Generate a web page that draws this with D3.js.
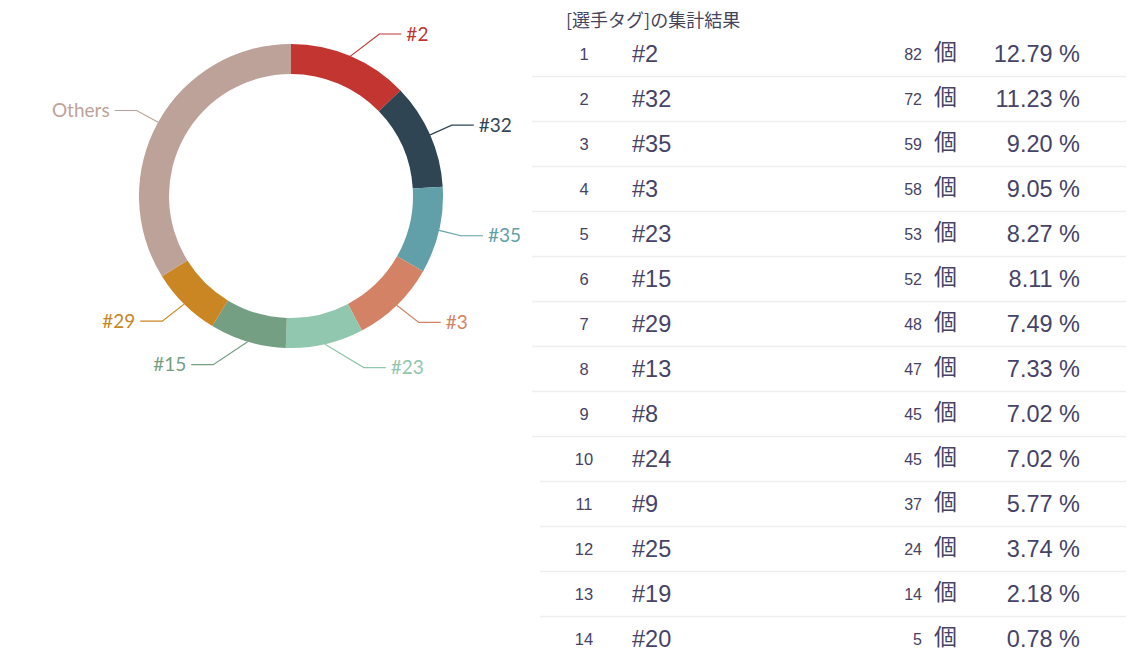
<!DOCTYPE html>
<html>
<head>
<meta charset="utf-8">
<script src="https://cdn.jsdelivr.net/npm/d3@7"></script>
<style>
  body { margin: 0; background: #fff; }
</style>
</head>
<body>
<div id="vis"></div>
<script>
// tag counts, in ranked order
const tags = ["#2", "#32", "#35", "#3", "#23", "#15", "#29", "#13", "#8", "#24", "#9", "#25", "#19", "#20"];
const counts = [82, 72, 59, 58, 53, 52, 48, 47, 45, 45, 37, 24, 14, 5];
const pieTopN = 7;
const othersLabel = "Others";
const title = "[選手タグ]の集計結果";
const unit = "個";
const palette = ["#c23531", "#2f4554", "#61a0a8", "#d48265", "#91c7ae", "#749f83", "#ca8622", "#bda29a"];

const width = 1131, height = 663;
const total = d3.sum(counts);

const svg = d3.select("#vis")
  .append("svg")
    .attr("width", width)
    .attr("height", height);

// ---- donut ----
const cx = 291, cy = 196;
const inner = 122, outer = 152;
const len1 = 24, len2 = 22;

const pieData = tags.slice(0, pieTopN).map((t, i) => ({name: t, value: counts[i]}));
pieData.push({name: othersLabel, value: d3.sum(counts.slice(pieTopN))});

const pie = d3.pie().sort(null).value(d => d.value);
const arc = d3.arc().innerRadius(inner).outerRadius(outer);
const arcs = pie(pieData);

const g = svg.append("g")
    .attr("transform", `translate(${cx},${cy})`);

g.selectAll("path.slice")
  .data(arcs)
  .join("path")
    .attr("class", "slice")
    .attr("d", arc)
    .attr("fill", (d, i) => palette[i]);

// label lines, roughly the way echarts lays them out
const labels = arcs.map((d, i) => {
  const a = (d.startAngle + d.endAngle) / 2;
  const dir = Math.sin(a) >= 0 ? 1 : -1;
  const p0 = [outer * Math.sin(a), -outer * Math.cos(a)];
  const y = -(outer + len1) * Math.cos(a);
  const R = outer + len1 + len2 - 2;
  const endX = dir * Math.sqrt(Math.max(R * R - y * y, 0));
  const elbowX = endX - dir * len2;
  return {name: d.data.name, color: palette[i], dir, pts: [p0, [elbowX, y], [endX, y]]};
});

g.selectAll("polyline")
  .data(labels)
  .join("polyline")
    .attr("points", d => d.pts.map(p => p.join(",")).join(" "))
    .attr("fill", "none")
    .attr("stroke", d => d.color)
    .attr("stroke-width", 1.2);

g.selectAll("text.lbl")
  .data(labels)
  .join("text")
    .attr("class", "lbl")
    .attr("x", d => d.pts[2][0] + d.dir * 5)
    .attr("y", d => d.pts[2][1])
    .attr("dy", "0.35em")
    .attr("text-anchor", d => d.dir > 0 ? "start" : "end")
    .attr("font-family", "Lato, sans-serif")
    .attr("font-size", 19)
    .attr("fill", d => d.color)
    .text(d => d.name);

// ---- table ----
const rowH = 45;
const row0 = 54;
const textColor = "#464366";

const y = d3.scaleLinear()
    .domain([0, 1])
    .range([row0, row0 + rowH]);

svg.append("text")
    .attr("x", 566)
    .attr("y", 21)
    .attr("dy", "0.35em")
    .attr("font-family", "'Noto Sans CJK JP', sans-serif")
    .attr("font-size", 18)
    .attr("fill", "#45455a")
    .text(title);

const rows = svg.append("g")
  .selectAll("g")
  .data(tags)
  .join("g")
    .attr("transform", (d, i) => `translate(0,${y(i)})`);

rows.filter((d, i) => i < tags.length - 1)
  .append("line")
    .attr("x1", (d, i) => i < 9 ? 532 : 540)
    .attr("x2", 1126)
    .attr("y1", rowH / 2)
    .attr("y2", rowH / 2)
    .attr("stroke", "#eeeeee")
    .attr("stroke-width", 1.5);

rows.append("text")
    .attr("x", 584)
    .attr("dy", "0.35em")
    .attr("text-anchor", "middle")
    .attr("font-family", "'Liberation Sans', Arial, sans-serif")
    .attr("font-size", 16.5)
    .attr("fill", textColor)
    .text((d, i) => i + 1);

rows.append("text")
    .attr("x", 632)
    .attr("dy", "0.35em")
    .attr("font-family", "'Liberation Sans', Arial, sans-serif")
    .attr("font-size", 23.5)
    .attr("fill", textColor)
    .text(d => d);

rows.append("text")
    .attr("x", 922)
    .attr("dy", "0.35em")
    .attr("text-anchor", "end")
    .attr("font-family", "'Liberation Sans', Arial, sans-serif")
    .attr("font-size", 16)
    .attr("fill", textColor)
    .text((d, i) => counts[i]);

rows.append("text")
    .attr("x", 934)
    .attr("y", -2)
    .attr("dy", "0.35em")
    .attr("font-family", "'Noto Sans CJK JP', sans-serif")
    .attr("font-size", 23)
    .attr("fill", textColor)
    .text(unit);

rows.append("text")
    .attr("x", 1080)
    .attr("dy", "0.35em")
    .attr("text-anchor", "end")
    .attr("font-family", "'Liberation Sans', Arial, sans-serif")
    .attr("font-size", 23.5)
    .attr("fill", textColor)
    .text((d, i) => d3.format(".2f")(counts[i] / total * 100) + " %");
</script>
</body>
</html>
